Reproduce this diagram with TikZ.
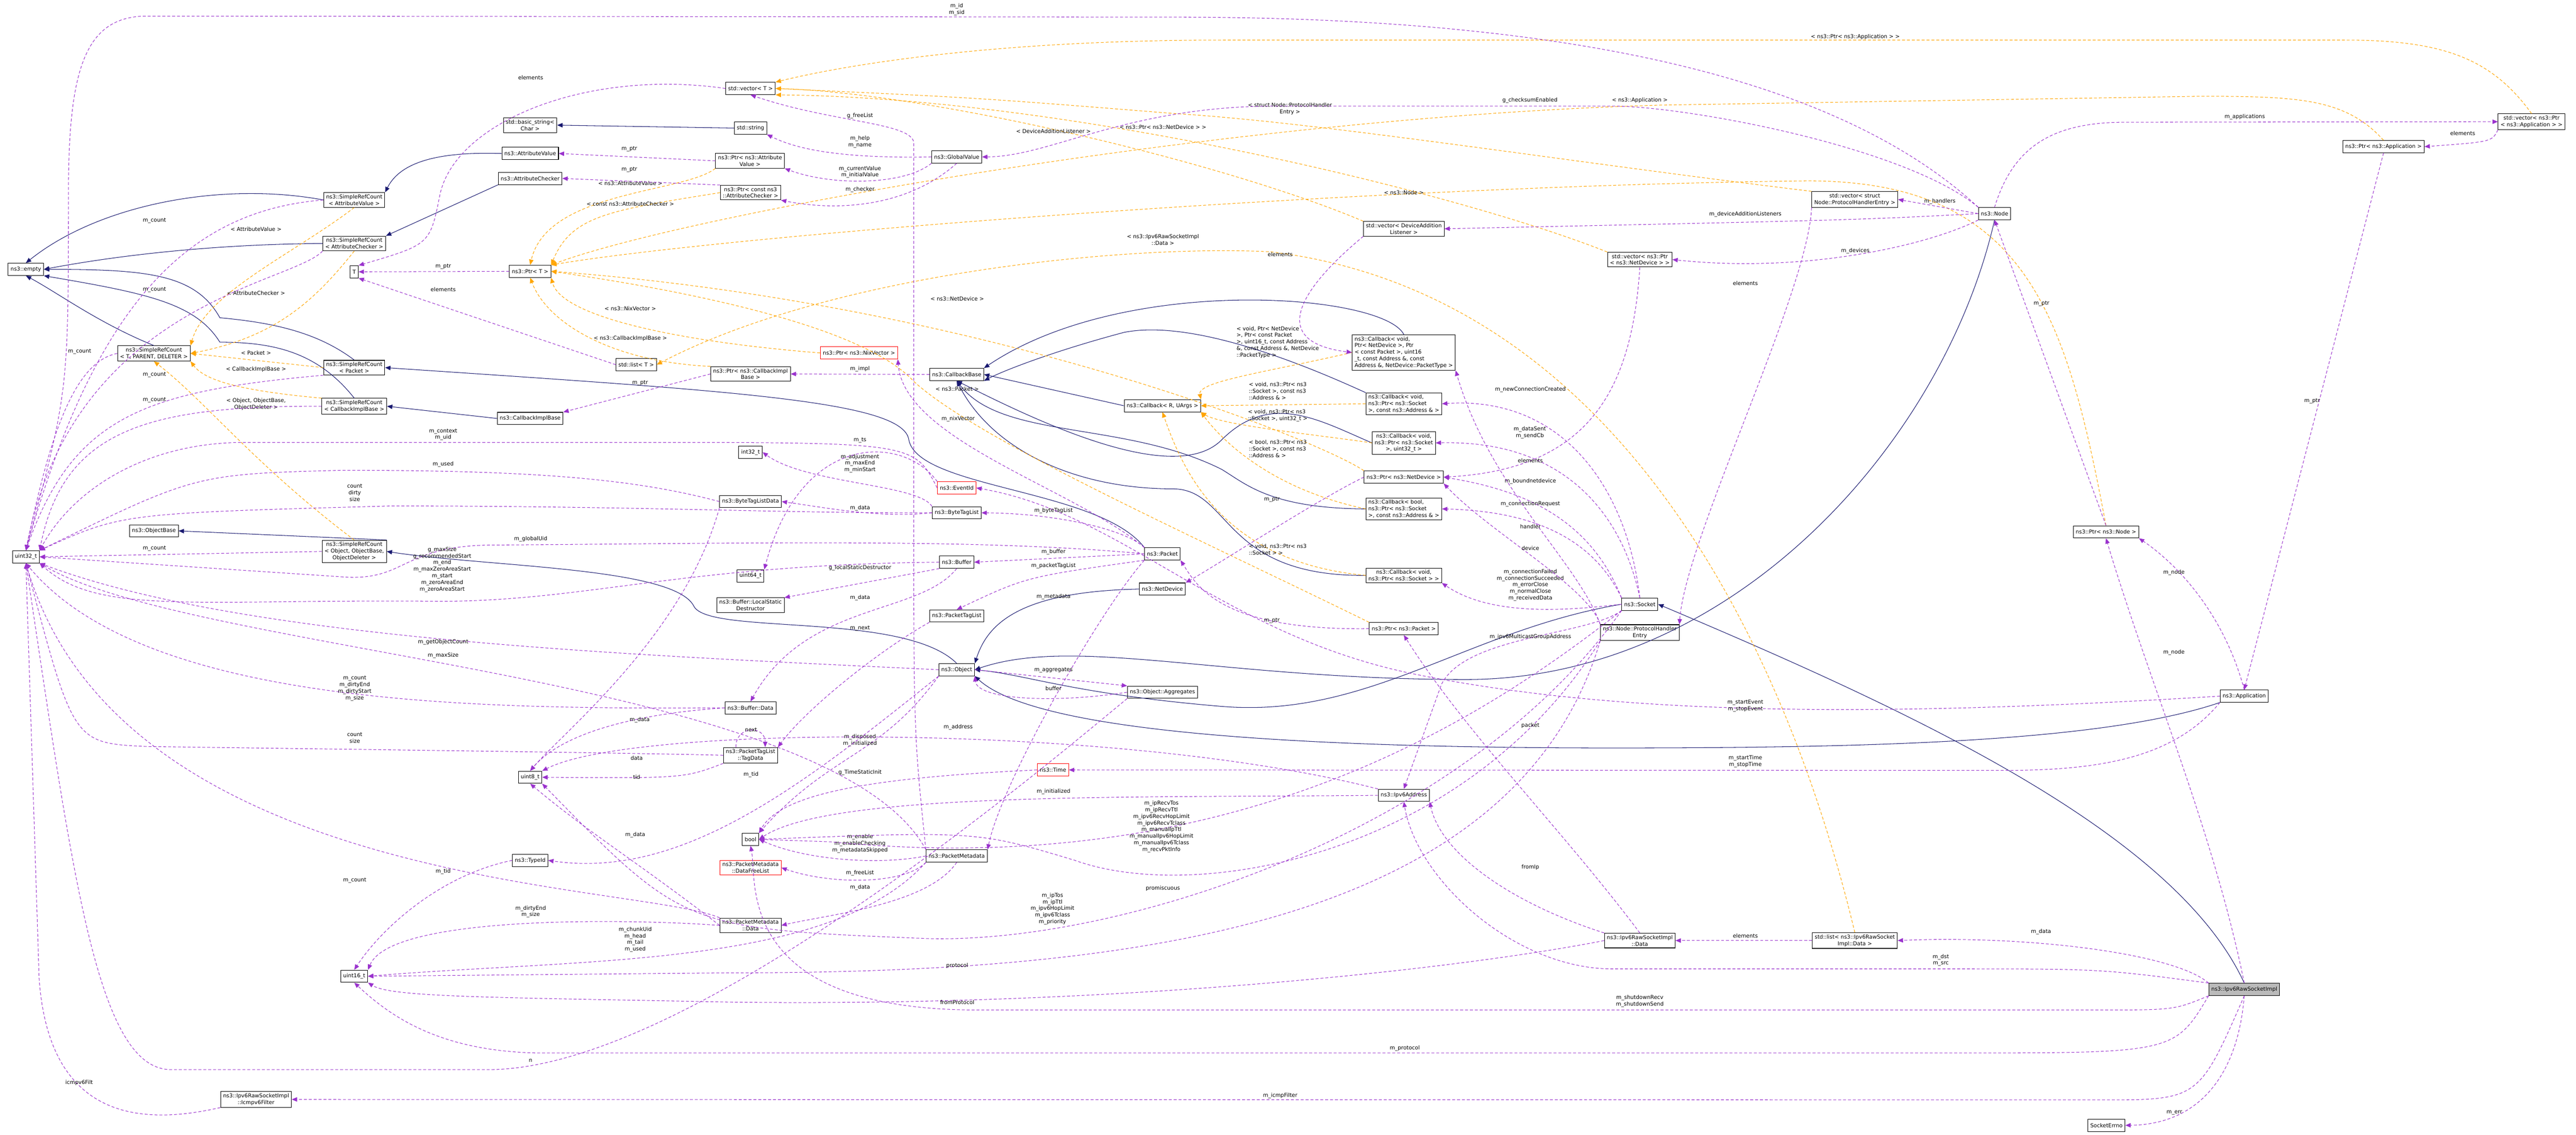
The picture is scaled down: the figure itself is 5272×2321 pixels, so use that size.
\documentclass[tikz,border=0pt]{standalone}
\usepackage{fontspec}
\setmainfont{DejaVu Sans}
\usetikzlibrary{arrows.meta}
\definecolor{inhc}{RGB}{25,25,112}
\definecolor{tmpc}{RGB}{255,165,0}
\definecolor{asc}{RGB}{154,50,205}
\begin{document}
\begin{tikzpicture}[x=1pt,y=-1pt,
 box/.style={draw=black,line width=1.1pt,fill=white,font=\fontsize{11}{13.5}\selectfont,align=center,inner xsep=5pt,inner ysep=4pt,minimum height=25pt},
 redbox/.style={box,draw=red},
 graybox/.style={box,fill=black!27},
 lbl/.style={font=\fontsize{11}{13.5}\selectfont,align=center,inner sep=1pt},
 inh/.style={draw=inhc,line width=1.1pt,-{Triangle[length=11pt,width=9pt]}},
 tmp/.style={draw=tmpc,line width=1.1pt,dash pattern=on 6pt off 4pt,-{Triangle[length=11pt,width=9pt]}},
 asc/.style={draw=asc,line width=1.1pt,dash pattern=on 6pt off 4pt,-{Triangle[length=11pt,width=9pt]}}]
\useasboundingbox (0,0) rectangle (5272,2321);
% nodes
\node[box] (empty) at (53,551) {ns3::empty};
\node[box] (bstr) at (1085,256) {std::basic\_string<\\Char >};
\node[box] (attrval) at (1085,314) {ns3::AttributeValue};
\node[box] (attrchk) at (1085,365) {ns3::AttributeChecker};
\node[box] (srcAV) at (725,409) {ns3::SimpleRefCount\\< AttributeValue >};
\node[box] (srcAC) at (725,498) {ns3::SimpleRefCount\\< AttributeChecker >};
\node[box] (Tn) at (725,556) {T};
\node[box] (ptrT) at (1085,555) {ns3::Ptr< T >};
\node[box] (srcT) at (315,723) {ns3::SimpleRefCount\\< T, PARENT, DELETER >};
\node[box] (srcP) at (725,752) {ns3::SimpleRefCount\\< Packet >};
\node[box] (listT) at (1302,746) {std::list< T >};
\node[box] (vecT) at (1536,181) {std::vector< T >};
\node[box] (str) at (1536,262) {std::string};
\node[box] (ptrAV) at (1535,329) {ns3::Ptr< ns3::Attribute\\Value >};
\node[box] (ptrAC) at (1536,394) {ns3::Ptr< const ns3\\::AttributeChecker >};
\node[box] (gv) at (1958,321) {ns3::GlobalValue};
\node[redbox] (ptrNix) at (1758,722) {ns3::Ptr< ns3::NixVector >};
\node[box] (ptrCIB) at (1536,765) {ns3::Ptr< ns3::CallbackImpl\\Base >};
\node[box] (cbb) at (1958,766) {ns3::CallbackBase};
\node[box] (vecPHE) at (3796,408) {std::vector< struct\\Node::ProtocolHandlerEntry >};
\node[box] (vecDAL) at (2873,468) {std::vector< DeviceAddition\\Listener >};
\node[box] (vecND) at (3356,531) {std::vector< ns3::Ptr\\< ns3::NetDevice > >};
\node[box,align=left] (cbND) at (2873,721) {ns3::Callback< void,\\ Ptr< NetDevice >, Ptr\\< const Packet >, uint16\\\_t, const Address \&, const\\ Address \&, NetDevice::PacketType >};
\node[box] (node) at (4082,437) {ns3::Node};
\node[box] (vecApp) at (5181,249) {std::vector< ns3::Ptr\\< ns3::Application > >};
\node[box] (ptrApp) at (4878,300) {ns3::Ptr< ns3::Application >};
\node[box] (srcCIB) at (725,831) {ns3::SimpleRefCount\\< CallbackImplBase >};
\node[box] (cib) at (1085,856) {ns3::CallbackImplBase};
\node[box] (objbase) at (315,1086) {ns3::ObjectBase};
\node[box] (srcObj) at (725,1128) {ns3::SimpleRefCount\\< Object, ObjectBase,\\ObjectDeleter >};
\node[box] (u32) at (53,1139) {uint32\_t};
\node[box] (cbRU) at (2379,830) {ns3::Callback< R, UArgs >};
\node[box] (i32) at (1536,925) {int32\_t};
\node[redbox] (evid) at (1958,998) {ns3::EventId};
\node[box] (btld) at (1536,1026) {ns3::ByteTagListData};
\node[box] (btl) at (1958,1049) {ns3::ByteTagList};
\node[box] (packet) at (2379,1133) {ns3::Packet};
\node[box] (buffer) at (1958,1150) {ns3::Buffer};
\node[box] (u64) at (1536,1178) {uint64\_t};
\node[box] (lsd) at (1536,1238) {ns3::Buffer::LocalStatic\\Destructor};
\node[box] (netdev) at (2379,1205) {ns3::NetDevice};
\node[box] (ptl) at (1958,1260) {ns3::PacketTagList};
\node[box] (object) at (1958,1370) {ns3::Object};
\node[box] (aggr) at (2379,1416) {ns3::Object::Aggregates};
\node[box] (bufdata) at (1536,1448) {ns3::Buffer::Data};
\node[box] (tagdata) at (1536,1545) {ns3::PacketTagList\\::TagData};
\node[box,align=left] (cbSA) at (2873,826) {ns3::Callback< void,\\ ns3::Ptr< ns3::Socket\\ >, const ns3::Address \& >};
\node[box] (cbSU) at (2873,906) {ns3::Callback< void,\\ ns3::Ptr< ns3::Socket\\ >, uint32\_t >};
\node[box] (ptrND) at (2873,976) {ns3::Ptr< ns3::NetDevice >};
\node[box,align=left] (cbSB) at (2873,1041) {ns3::Callback< bool,\\ ns3::Ptr< ns3::Socket\\ >, const ns3::Address \& >};
\node[box] (cbS) at (2873,1177) {ns3::Callback< void,\\ ns3::Ptr< ns3::Socket > >};
\node[box] (ptrPkt) at (2873,1286) {ns3::Ptr< ns3::Packet >};
\node[box] (socket) at (3356,1236) {ns3::Socket};
\node[box] (phe) at (3356,1294) {ns3::Node::ProtocolHandler\\Entry};
\node[box] (ptrNode) at (4310,1088) {ns3::Ptr< ns3::Node >};
\node[box] (app) at (4593,1424) {ns3::Application};
\node[box] (u8) at (1085,1590) {uint8\_t};
\node[box] (typeid) at (1085,1760) {ns3::TypeId};
\node[box] (u16) at (725,1997) {uint16\_t};
\node[box] (icmpf) at (524,2249) {ns3::Ipv6RawSocketImpl\\::Icmpv6Filter};
\node[redbox] (time) at (2155,1575) {ns3::Time};
\node[box] (bool) at (1536,1717) {bool};
\node[box] (pm) at (1958,1751) {ns3::PacketMetadata};
\node[redbox] (dfl) at (1536,1775) {ns3::PacketMetadata\\::DataFreeList};
\node[box] (pmd) at (1536,1893) {ns3::PacketMetadata\\::Data};
\node[box] (ip6) at (2873,1627) {ns3::Ipv6Address};
\node[box] (rsd) at (3356,1924) {ns3::Ipv6RawSocketImpl\\::Data};
\node[box] (listD) at (3796,1924) {std::list< ns3::Ipv6RawSocket\\Impl::Data >};
\node[graybox] (raw) at (4593,2024) {ns3::Ipv6RawSocketImpl};
\node[box] (serr) at (4311,2302) {SocketErrno};

% inheritance
\draw[inh] (srcAV.west) .. controls (450,370) and (200,420) .. (empty.north);
\draw[inh] (attrval.west) .. controls (900,310) and (820,330) .. (srcAV.north east);
\draw[inh] (srcAC.west) .. controls (400,500) and (200,530) .. (empty.east);
\draw[inh] (attrchk.south west) -- (srcAC.north east);
\draw[inh] (srcP.north) .. controls (650,680) and (560,660) .. (450,650) .. controls (400,560) and (300,551) .. (empty.east);
\draw[inh] (srcT.north) .. controls (200,660) and (120,600) .. (empty.south);
\draw[inh] (srcCIB.north) .. controls (650,720) and (560,700) .. (450,700) .. controls (400,620) and (300,600) .. (empty.south east);
\draw[inh] (cib.west) -- (srcCIB.east);
\draw[inh] (packet.north west) .. controls (2250,1000) and (1880,1000) .. (1860,900) .. controls (1850,820) and (1500,800) .. (srcP.east);
\draw[inh] (str.west) -- (bstr.east);
\draw[inh] (srcObj.north east) -- (objbase.east);
\draw[inh] (object.north) .. controls (1850,1250) and (1450,1300) .. (1420,1240) .. controls (1380,1160) and (1000,1160) .. (srcObj.east);
\draw[inh] (cbRU.west) -- (cbb.east);
\draw[inh] (cbND.north) .. controls (2830,600) and (2300,560) .. (cbb.north east);
\draw[inh] (cbSA.north west) .. controls (2700,760) and (2450,650) .. (2300,680) .. controls (2150,720) and (2050,760) .. (cbb.south east);
\draw[inh] (cbSU.west) .. controls (2700,860) and (2600,800) .. (2500,900) .. controls (2400,1000) and (2100,850) .. (cbb.south);
\draw[inh] (cbSB.west) .. controls (2600,1040) and (2550,990) .. (2500,960) .. controls (2300,860) and (2050,900) .. (cbb.south);
\draw[inh] (cbS.west) .. controls (2500,1180) and (2520,1000) .. (2400,1000) .. controls (2200,1000) and (2030,920) .. (cbb.south);
\draw[inh] (netdev.west) .. controls (2080,1210) and (2020,1280) .. (object.north east);
\draw[inh] (node.south) .. controls (3980,900) and (3550,1390) .. (3000,1390) .. controls (2500,1390) and (2200,1300) .. (object.east);
\draw[inh] (socket.west) .. controls (3000,1290) and (2800,1470) .. (2500,1445) .. controls (2200,1420) and (2100,1380) .. (object.east);
\draw[inh] (app.south west) .. controls (4300,1520) and (3800,1530) .. (3300,1530) .. controls (2500,1530) and (2100,1480) .. (object.south east);
\draw[inh] (raw.north) .. controls (4450,1700) and (3900,1450) .. (socket.east);

% template instantiations
\draw[tmp] (srcAV.south) .. controls (600,520) and (420,600) .. (srcT.north east) node[lbl] at (524,469) {< AttributeValue >};
\draw[tmp] (srcAC.south) .. controls (640,620) and (560,690) .. (srcT.east) node[lbl] at (524,600) {< AttributeChecker >};
\draw[tmp] (srcP.west) -- (srcT.east) node[lbl] at (524,722) {< Packet >};
\draw[tmp] (srcCIB.north west) .. controls (500,800) and (420,780) .. (srcT.south east) node[lbl] at (524,756) {< CallbackImplBase >};
\draw[tmp] (srcObj.north) .. controls (520,950) and (420,820) .. (srcT.south) node[lbl] at (524,827) {< Object, ObjectBase,\\ObjectDeleter >};
\draw[tmp] (ptrAV.south west) .. controls (1400,395) and (1120,390) .. (ptrT.north) node[lbl] at (1290,375) {< ns3::AttributeValue >};
\draw[tmp] (ptrAC.west) .. controls (1250,430) and (1170,440) .. (ptrT.north east) node[lbl] at (1290,417) {< const ns3::AttributeChecker >};
\draw[tmp] (ptrNix.west) .. controls (1400,700) and (1150,650) .. (ptrT.south east) node[lbl] at (1290,631) {< ns3::NixVector >};
\draw[tmp] (ptrCIB.north west) .. controls (1250,740) and (1120,660) .. (ptrT.south) node[lbl] at (1290,692) {< ns3::CallbackImplBase >};
\draw[tmp] (ptrND.north west) .. controls (2700,900) and (2000,620) .. (ptrT.east) node[lbl] at (1959,611) {< ns3::NetDevice >};
\draw[tmp] (ptrPkt.north west) .. controls (2450,1100) and (2000,900) .. (1870,780) .. controls (1750,650) and (1300,580) .. (ptrT.east) node[lbl] at (1959,796) {< ns3::Packet >};
\draw[tmp] (ptrNode.north) .. controls (4230,650) and (4150,370) .. (3700,370) .. controls (2800,380) and (1500,480) .. (ptrT.north east) node[lbl] at (2873,394) {< ns3::Node >};
\draw[tmp] (ptrApp.north) .. controls (4800,200) and (4700,197) .. (4500,197) -- (3400,215) .. controls (2500,240) and (1400,440) .. (ptrT.north east) node[lbl] at (3356,205) {< ns3::Application >};
\draw[tmp] (vecApp.north) .. controls (5100,120) and (5000,82) .. (4800,82) -- (2500,82) .. controls (2000,82) and (1700,140) .. (vecT.north east) node[lbl] at (3797,75) {< ns3::Ptr< ns3::Application > >};
\draw[tmp] (vecPHE.north west) .. controls (3200,330) and (2700,250) .. (2400,232) .. controls (2000,200) .. (vecT.east) node[lbl] at (2640,223) {< struct Node::ProtocolHandler\\Entry >};
\draw[tmp] (vecDAL.north west) .. controls (2500,330) and (1900,190) .. (vecT.east) node[lbl] at (2156,268) {< DeviceAdditionListener >};
\draw[tmp] (vecND.north west) .. controls (3000,400) and (2200,200) .. (vecT.south east) node[lbl] at (2380,260) {< ns3::Ptr< ns3::NetDevice > >};
\draw[tmp] (listD.north) .. controls (3650,1300) and (3300,600) .. (2600,515) .. controls (2300,500) and (1700,560) .. (listT.east) node[lbl] at (2380,490) {< ns3::Ipv6RawSocketImpl\\::Data >};
\draw[tmp] (cbND.west) .. controls (2600,760) and (2450,780) .. (cbRU.north east) node[lbl,align=left] at (2615,700) {< void, Ptr< NetDevice\\>, Ptr< const Packet\\>, uint16\_t, const Address\\\&, const Address \&, NetDevice\\::PacketType >};
\draw[tmp] (cbSA.west) -- (cbRU.east) node[lbl,align=left] at (2615,800) {< void, ns3::Ptr< ns3\\::Socket >, const ns3\\::Address \& >};
\draw[tmp] (cbSU.west) .. controls (2700,890) and (2500,870) .. (cbRU.south east) node[lbl,align=left] at (2615,850) {< void, ns3::Ptr< ns3\\::Socket >, uint32\_t >};
\draw[tmp] (cbSB.west) .. controls (2600,1000) and (2500,900) .. (cbRU.south east) node[lbl,align=left] at (2615,918) {< bool, ns3::Ptr< ns3\\::Socket >, const ns3\\::Address \& >};
\draw[tmp] (cbS.west) .. controls (2500,1150) and (2420,960) .. (cbRU.south) node[lbl,align=left] at (2615,1124) {< void, ns3::Ptr< ns3\\::Socket > >};

% associations
\draw[asc] (ptrT) -- (Tn) node[lbl] at (907,545) {m\_ptr};
\draw[asc] (listT.west) -- (Tn.south east) node[lbl] at (907,592) {elements};
\draw[asc] (vecT.west) .. controls (1200,140) and (930,250) .. (900,400) .. controls (880,500) .. (Tn.north east) node[lbl] at (1086,159) {elements};
\draw[asc] (ptrAV.west) -- (attrval.east) node[lbl] at (1288,305) {m\_ptr};
\draw[asc] (ptrAC.north west) -- (attrchk.east) node[lbl] at (1288,347) {m\_ptr};
\draw[asc] (gv.west) .. controls (1700,325) and (1620,300) .. (str.south east) node[lbl] at (1760,290) {m\_help\\m\_name};
\draw[asc] (gv.south west) .. controls (1850,380) and (1700,380) .. (ptrAV.south east) node[lbl] at (1760,352) {m\_currentValue\\m\_initialValue};
\draw[asc] (gv.south) .. controls (1850,430) and (1700,430) .. (ptrAC.south east) node[lbl] at (1760,388) {m\_checker};
\draw[asc] (node.north west) .. controls (3900,300) and (3450,217) .. (3300,217) -- (2600,217) .. controls (2300,220) and (2150,320) .. (gv.east) node[lbl] at (3131,205) {g\_checksumEnabled};
\draw[asc] (pm.north west) .. controls (1870,1500) .. (1870,1000) -- (1870,290) .. controls (1860,250) and (1700,250) .. (vecT.south) node[lbl] at (1760,237) {g\_freeList};
\draw[asc] (node.north west) .. controls (3700,100) and (3000,35) .. (2400,35) -- (300,33) .. controls (170,33) and (140,150) .. (140,400) .. controls (140,800) .. (u32.north) node[lbl] at (1958,19) {m\_id\\m\_sid};
\draw[asc] (srcAV.west) .. controls (400,430) and (200,600) .. (u32.north) node[lbl] at (316,451) {m\_count};
\draw[asc] (srcAC.south west) .. controls (600,580) and (150,620) .. (u32.north) node[lbl] at (316,593) {m\_count};
\draw[asc] (srcT.west) .. controls (150,740) and (100,900) .. (u32.north) node[lbl] at (163,719) {m\_count};
\draw[asc] (srcP.south west) .. controls (300,800) and (150,850) .. (u32.north) node[lbl] at (316,767) {m\_count};
\draw[asc] (srcCIB.west) .. controls (300,830) and (130,880) .. (u32.north east) node[lbl] at (316,818) {m\_count};
\draw[asc] (srcObj.west) -- (u32.east) node[lbl] at (316,1122) {m\_count};
\draw[asc] (ptrCIB.west) -- (cib.north east) node[lbl] at (1310,783) {m\_ptr};
\draw[asc] (cbb.west) -- (ptrCIB.east) node[lbl] at (1760,755) {m\_impl};
\draw[asc] (packet.north west) .. controls (2200,1000) and (1850,900) .. (ptrNix.south east) node[lbl] at (1961,857) {m\_nixVector};
\draw[asc] (evid.west) .. controls (1870,905) .. (1300,905) -- (500,905) .. controls (300,905) and (150,1000) .. (u32.north east) node[lbl] at (907,889) {m\_context\\m\_uid};
\draw[asc] (btld.west) .. controls (1300,980) and (1100,962) .. (700,962) .. controls (400,970) .. (u32.north east) node[lbl] at (907,950) {m\_used};
\draw[asc] (btl.west) .. controls (1600,1050) and (1300,1035) .. (800,1035) .. controls (250,1050) .. (u32.north east) node[lbl] at (726,1008) {count\\dirty\\size};
\draw[asc] (btl.west) .. controls (1800,1060) and (1700,1040) .. (btld.east) node[lbl] at (1760,1039) {m\_data};
\draw[asc] (btl.north west) .. controls (1880,990) and (1650,990) .. (i32.east) node[lbl] at (1760,948) {m\_adjustment\\m\_maxEnd\\m\_minStart};
\draw[asc] (evid.north west) .. controls (1850,890) and (1640,880) .. (u64.north east) node[lbl] at (1760,900) {m\_ts};
\draw[asc] (packet.west) .. controls (2000,1100) and (1500,1112) .. (1000,1115) .. controls (820,1118) and (830,1190) .. (700,1180) -- (u32.east) node[lbl] at (1086,1103) {m\_globalUid};
\draw[asc] (buffer.west) .. controls (1400,1155) and (1200,1230) .. (900,1230) .. controls (400,1225) and (200,1260) .. (u32.south east) node[lbl] at (905,1165) {g\_maxSize\\g\_recommendedStart\\m\_end\\m\_maxZeroAreaStart\\m\_start\\m\_zeroAreaEnd\\m\_zeroAreaStart};
\draw[asc] (object.west) .. controls (1300,1340) and (500,1310) .. (u32.south east) node[lbl] at (907,1313) {m\_getObjectCount};
\draw[asc] (pm.north west) .. controls (1700,1380) and (400,1340) .. (u32.south east) node[lbl] at (907,1341) {m\_maxSize};
\draw[asc] (bufdata.west) .. controls (1000,1450) and (300,1450) .. (u32.south) node[lbl] at (726,1408) {m\_count\\m\_dirtyEnd\\m\_dirtyStart\\m\_size};
\draw[asc] (tagdata.west) .. controls (1300,1540) and (500,1530) .. (300,1527) .. controls (150,1520) .. (u32.south) node[lbl] at (726,1509) {count\\size};
\draw[asc] (packet.north west) .. controls (2300,1080) and (2150,1050) .. (btl.east) node[lbl] at (2156,1045) {m\_byteTagList};
\draw[asc] (packet.west) -- (buffer.east) node[lbl] at (2156,1129) {m\_buffer};
\draw[asc] (packet.south west) .. controls (2100,1180) .. (ptl.north) node[lbl] at (2156,1157) {m\_packetTagList};
\draw[asc] (packet.south west) .. controls (2250,1250) and (2050,1600) .. (pm.north east) node[lbl] at (2156,1221) {m\_metadata};
\draw[asc] (buffer.south west) -- (lsd.north east) node[lbl] at (1760,1162) {g\_localStaticDestructor};
\draw[asc] (buffer.south) .. controls (1880,1260) and (1650,1230) .. (bufdata.north) node[lbl] at (1760,1223) {m\_data};
\draw[asc] (ptl.south west) .. controls (1800,1330) and (1650,1450) .. (tagdata.north east) node[lbl] at (1760,1285) {m\_next};
\draw[asc] ([xshift=-30pt]tagdata.north) .. controls +(0,-45) and +(0,-45) .. ([xshift=30pt]tagdata.north) node[lbl] at (1537,1493) {next};
\draw[asc] (object.east) -- (aggr.north west) node[lbl] at (2156,1371) {m\_aggregates};
\draw[asc] (aggr.west) .. controls (2150,1440) and (2000,1430) .. (object.south east) node[lbl] at (2156,1408) {buffer};
\draw[asc] (aggr.south west) .. controls (2100,1600) and (1400,2188) .. (1000,2188) -- (350,2188) .. controls (200,2188) and (150,1800) .. (u32.south) node[lbl] at (1086,2170) {n};
\draw[asc] (object.south west) .. controls (1800,1550) and (1700,1540) .. (bool.north east) node[lbl] at (1760,1514) {m\_disposed\\m\_initialized};
\draw[asc] (btld.south west) .. controls (1400,1300) and (1150,1500) .. (u8.north) node[lbl] at (1303,1551) {data};
\draw[asc] (tagdata.south west) .. controls (1400,1592) .. (u8.east) node[lbl] at (1303,1590) {tid};
\draw[asc] (ip6.north west) .. controls (2300,1480) and (1300,1480) .. (u8.north east) node[lbl] at (1961,1488) {m\_address};
\draw[asc] (bufdata.west) .. controls (1300,1460) and (1150,1500) .. (u8.north) node[lbl] at (1309,1473) {m\_data};
\draw[asc] (pmd.west) .. controls (1300,1760) and (1200,1700) .. (u8.south) node[lbl] at (1300,1708) {m\_data};
\draw[asc] (object.south west) .. controls (1650,1600) and (1400,1800) .. (typeid.east) node[lbl] at (1537,1585) {m\_tid};
\draw[asc] (typeid.west) .. controls (900,1790) and (780,1900) .. (u16.north) node[lbl] at (907,1783) {m\_tid};
\draw[asc] (pmd.west) .. controls (1300,1880) and (800,1870) .. (u16.north east) node[lbl] at (1086,1865) {m\_dirtyEnd\\m\_size};
\draw[asc] (pm.south west) .. controls (1700,1980) and (1200,1960) .. (u16.east) node[lbl] at (1300,1922) {m\_chunkUid\\m\_head\\m\_tail\\m\_used};
\draw[asc] (pmd.north west) .. controls (1300,1805) and (250,1820) .. (u32.south) node[lbl] at (726,1801) {m\_count};
\draw[asc] (phe.south west) .. controls (3100,1900) and (2300,1990) .. (1500,1990) -- (u16.east) node[lbl] at (1959,1976) {protocol};
\draw[asc] (rsd.west) .. controls (3000,1980) and (2300,2060) .. (1500,2050) .. controls (1000,2040) and (800,2040) .. (u16.south east) node[lbl] at (1959,2050) {fromProtocol};
\draw[asc] (raw.south west) .. controls (4450,2154) .. (4000,2154) -- (1100,2154) .. controls (900,2150) and (800,2080) .. (u16.south) node[lbl] at (2875,2144) {m\_protocol};
\draw[asc] (pm.west) .. controls (1800,1770) and (1650,1760) .. (bool.east) node[lbl] at (1760,1726) {m\_enable\\m\_enableChecking\\m\_metadataSkipped};
\draw[asc] (pm.south west) .. controls (1850,1810) and (1700,1810) .. (dfl.east) node[lbl] at (1760,1786) {m\_freeList};
\draw[asc] (pm.south) .. controls (1900,1850) and (1700,1870) .. (pmd.east) node[lbl] at (1760,1815) {m\_data};
\draw[asc] (time.west) .. controls (1800,1590) and (1600,1620) .. (bool.north east) node[lbl] at (1760,1580) {g\_TimeStaticInit};
\draw[asc] (ip6.west) .. controls (2300,1632) and (1700,1620) .. (bool.east) node[lbl] at (2156,1619) {m\_initialized};
\draw[asc] (socket.south west) .. controls (3000,1500) and (2500,1800) .. (1700,1722) -- (bool.east) node[lbl] at (2377,1691) {m\_ipRecvTos\\m\_ipRecvTtl\\m\_ipv6RecvHopLimit\\m\_ipv6RecvTclass\\m\_manualIpTtl\\m\_manualIpv6HopLimit\\m\_manualIpv6Tclass\\m\_recvPktInfo};
\draw[asc] (phe.south west) .. controls (3000,1750) and (2450,1850) .. (2200,1760) .. controls (2000,1700) .. (bool.east) node[lbl] at (2380,1817) {promiscuous};
\draw[asc] (socket.south west) .. controls (3000,1700) and (2300,1930) .. (1900,1920) .. controls (1400,1900) .. (u8.south east) node[lbl] at (2154,1859) {m\_ipTos\\m\_ipTtl\\m\_ipv6HopLimit\\m\_ipv6Tclass\\m\_priority};
\draw[asc] (raw.south west) .. controls (4450,2066) .. (4300,2066) -- (2000,2066) .. controls (1500,2066) and (1550,1800) .. (bool.south) node[lbl] at (3356,2048) {m\_shutdownRecv\\m\_shutdownSend};
\draw[asc] (raw.south) .. controls (4500,2250) .. (4300,2250) -- (icmpf.east) node[lbl] at (2620,2241) {m\_icmpFilter};
\draw[asc] (icmpf.south west) .. controls (300,2300) and (100,2300) .. (80,2000) -- (u32.south) node[lbl] at (162,2215) {icmpv6Filt};
\draw[asc] (raw.south) .. controls (4580,2200) and (4500,2300) .. (serr.east) node[lbl] at (4450,2276) {m\_err};
\draw[asc] (raw.north west) .. controls (4450,1950) and (4150,1913) .. (listD.east) node[lbl] at (4177,1906) {m\_data};
\draw[asc] (listD.west) -- (rsd.east) node[lbl] at (3572,1914) {elements};
\draw[asc] (raw.north west) .. controls (4300,1982) .. (4000,1982) -- (3300,1982) .. controls (3100,1982) and (2900,1800) .. (ip6.south) node[lbl] at (3972,1964) {m\_dst\\m\_src};
\draw[asc] (rsd.north west) .. controls (3100,1850) and (2950,1750) .. (ip6.south east) node[lbl] at (3132,1774) {fromIp};
\draw[asc] (rsd.north) .. controls (3200,1700) and (3000,1500) .. (ptrPkt.south) node[lbl] at (3132,1484) {packet};
\draw[asc] (socket.south west) .. controls (3250,1300) and (3000,1300) .. (2950,1400) -- (ip6.north) node[lbl] at (3132,1303) {m\_ipv6MulticastGroupAddress};
\draw[asc] (socket.north) .. controls (3330,1000) and (3200,810) .. (cbSA.east) node[lbl] at (3132,797) {m\_newConnectionCreated};
\draw[asc] (socket.north) .. controls (3320,1050) and (3200,900) .. (cbSU.east) node[lbl] at (3131,885) {m\_dataSent\\m\_sendCb};
\draw[asc] (socket.north west) .. controls (3250,1050) and (3100,1000) .. (ptrND.east) node[lbl] at (3132,985) {m\_boundnetdevice};
\draw[asc] (socket.north west) .. controls (3250,1080) and (3100,1045) .. (cbSB.east) node[lbl] at (3132,1031) {m\_connectionRequest};
\draw[asc] (socket.west) .. controls (3200,1250) and (3050,1260) .. (cbS.south east) node[lbl] at (3132,1197) {m\_connectionFailed\\m\_connectionSucceeded\\m\_errorClose\\m\_normalClose\\m\_receivedData};
\draw[asc] (vecND.south) .. controls (3340,800) and (3250,960) .. (ptrND.east) node[lbl] at (3132,942) {elements};
\draw[asc] (phe.north west) .. controls (3250,1200) and (3050,1090) .. (ptrND.south east) node[lbl] at (3132,1121) {device};
\draw[asc] (phe.north west) .. controls (3230,1150) and (3050,1000) .. (cbND.south east) node[lbl] at (3132,1077) {handler};
\draw[asc] (vecPHE.south west) .. controls (3700,600) and (3450,1100) .. (phe.north east) node[lbl] at (3572,580) {elements};
\draw[asc] (vecDAL.south west) .. controls (2650,600) and (2600,700) .. (cbND.west) node[lbl] at (2620,520) {elements};
\draw[asc] (node.west) -- (vecPHE.east) node[lbl] at (3970,412) {m\_handlers};
\draw[asc] (node.west) .. controls (3800,450) .. (vecDAL.east) node[lbl] at (3572,438) {m\_deviceAdditionListeners};
\draw[asc] (node.south west) .. controls (3950,500) and (3700,560) .. (vecND.east) node[lbl] at (3797,513) {m\_devices};
\draw[asc] (node.north) .. controls (4120,300) and (4200,250) .. (4350,250) -- (vecApp.west) node[lbl] at (4594,239) {m\_applications};
\draw[asc] (vecApp.south west) .. controls (5100,290) .. (ptrApp.east) node[lbl] at (5040,273) {elements};
\draw[asc] (ptrApp.south) -- (app.north) node[lbl] at (4732,820) {m\_ptr};
\draw[asc] (ptrNode.north) -- (node.south) node[lbl] at (4178,621) {m\_ptr};
\draw[asc] (app.north) .. controls (4550,1250) and (4450,1150) .. (ptrNode.south east) node[lbl] at (4449,1171) {m\_node};
\draw[asc] (raw.north) .. controls (4530,1700) and (4400,1400) .. (ptrNode.south) node[lbl] at (4449,1335) {m\_node};
\draw[asc] (app.south west) .. controls (4450,1550) and (4300,1576) .. (4100,1576) -- (time.east) node[lbl] at (3572,1558) {m\_startTime\\m\_stopTime};
\draw[asc] (app.west) .. controls (3800,1470) and (3300,1460) .. (2900,1380) .. controls (2500,1300) and (2300,1050) .. (evid.east) node[lbl] at (3572,1444) {m\_startEvent\\m\_stopEvent};
\draw[asc] (ptrND.west) .. controls (2700,1020) and (2500,1150) .. (netdev.north east) node[lbl] at (2603,1022) {m\_ptr};
\draw[asc] (ptrPkt.west) .. controls (2500,1290) and (2450,1200) .. (packet.south east) node[lbl] at (2603,1270) {m\_ptr};
\end{tikzpicture}
\end{document}
